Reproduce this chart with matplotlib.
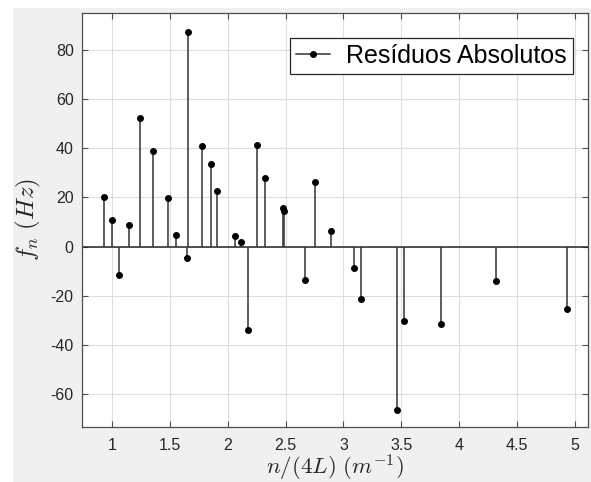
import matplotlib
matplotlib.use("Agg")
import matplotlib.pyplot as plt
from matplotlib.lines import Line2D
from matplotlib.legend_handler import HandlerLine2D
from matplotlib.patches import Rectangle

# dados
freq = [0.931, 0.995, 1.061, 1.144, 1.240, 1.352, 1.485, 1.554, 1.649, 1.652,
        1.773, 1.854, 1.906, 2.064, 2.116, 2.174, 2.252, 2.318, 2.474, 2.483,
        2.671, 2.751, 2.894, 3.088, 3.154, 3.465, 3.523, 3.846, 4.322, 4.931]
residuos = [20.0, 10.7, -11.4, 8.7, 52.2, 38.7, 19.7, 4.6, -4.5, 87.3,
            41.0, 33.5, 22.5, 4.2, 1.8, -33.7, 41.3, 28.0, 15.6, 14.5,
            -13.6, 26.1, 6.5, -8.6, -21.1, -66.5, -30.3, -31.5, -13.9, -25.4]
xticks = [1, 1.5, 2, 2.5, 3, 3.5, 4, 4.5, 5]
yticks = [-60, -40, -20, 0, 20, 40, 60, 80]

plt.rcParams['font.family'] = ['Liberation Sans', 'DejaVu Sans']
plt.rcParams['mathtext.fontset'] = 'cm'
plt.rcParams['axes.unicode_minus'] = False

fig = plt.figure(figsize=(5.91, 4.82), dpi=100, facecolor='white')
# fundo cinza estilo MATLAB
fig.patches.append(Rectangle((13 / 591, 0), 1, 1 - 8 / 482, transform=fig.transFigure,
                             facecolor='#f0f0f0', edgecolor='none', zorder=-10))

ax = fig.add_axes([82 / 591, 1 - 427 / 482, (588 - 82) / 591, (427 - 12.7) / 482])
ax.set_facecolor('white')

# linha de base e hastes
ax.axhline(0, color='#262626', lw=1.1, zorder=2)
ax.vlines(freq, 0, residuos, color='#333333', lw=1.1, zorder=3)
ax.plot(freq, residuos, 'o', color='black', markersize=4, zorder=4)

ax.set_xlim(0.738, 5.115)
ax.set_ylim(-73.3, 95)
ax.set_xticks(xticks)
ax.set_xticklabels([f'{t:g}' for t in xticks])
ax.set_yticks(yticks)
ax.grid(True, color='#dedede', lw=0.8)
ax.set_axisbelow(True)
ax.tick_params(direction='in', top=True, right=True, length=4, width=0.8,
               color='#4d4d4d', labelsize=11.5, labelcolor='#262626')
ax.tick_params(axis='x', pad=8)
ax.tick_params(axis='y', pad=6)
for s in ax.spines.values():
    s.set_color('#4d4d4d')
    s.set_linewidth(0.9)

ax.set_xlabel(r'$n/(4L)\ (m^{-1})$', fontsize=16.5, labelpad=0, color='#262626')
ax.set_ylabel(r'$f_n\ (Hz)$', fontsize=18, labelpad=5, color='#262626')


class MarcadorDireita(HandlerLine2D):
    def get_xdata(self, legend, xdescent, ydescent, width, height, fontsize):
        return [-xdescent, -xdescent + width], [-xdescent + width]


h = Line2D([], [], color='#333333', lw=1.1, marker='o', markersize=4,
           markerfacecolor='black', markeredgecolor='black')
leg = ax.legend([h], ['Resíduos Absolutos'], loc='upper right', fontsize=18,
                handler_map={h: MarcadorDireita()}, fancybox=False,
                framealpha=1, edgecolor='#262626', handlelength=1.35,
                handletextpad=0.65, borderpad=0.25, borderaxespad=0,
                bbox_to_anchor=((573 - 82) / 506, 1 - (38 - 12.7) / 414.3))
leg.get_frame().set_linewidth(0.9)

fig.savefig('out.png', dpi=100, facecolor=fig.get_facecolor())
